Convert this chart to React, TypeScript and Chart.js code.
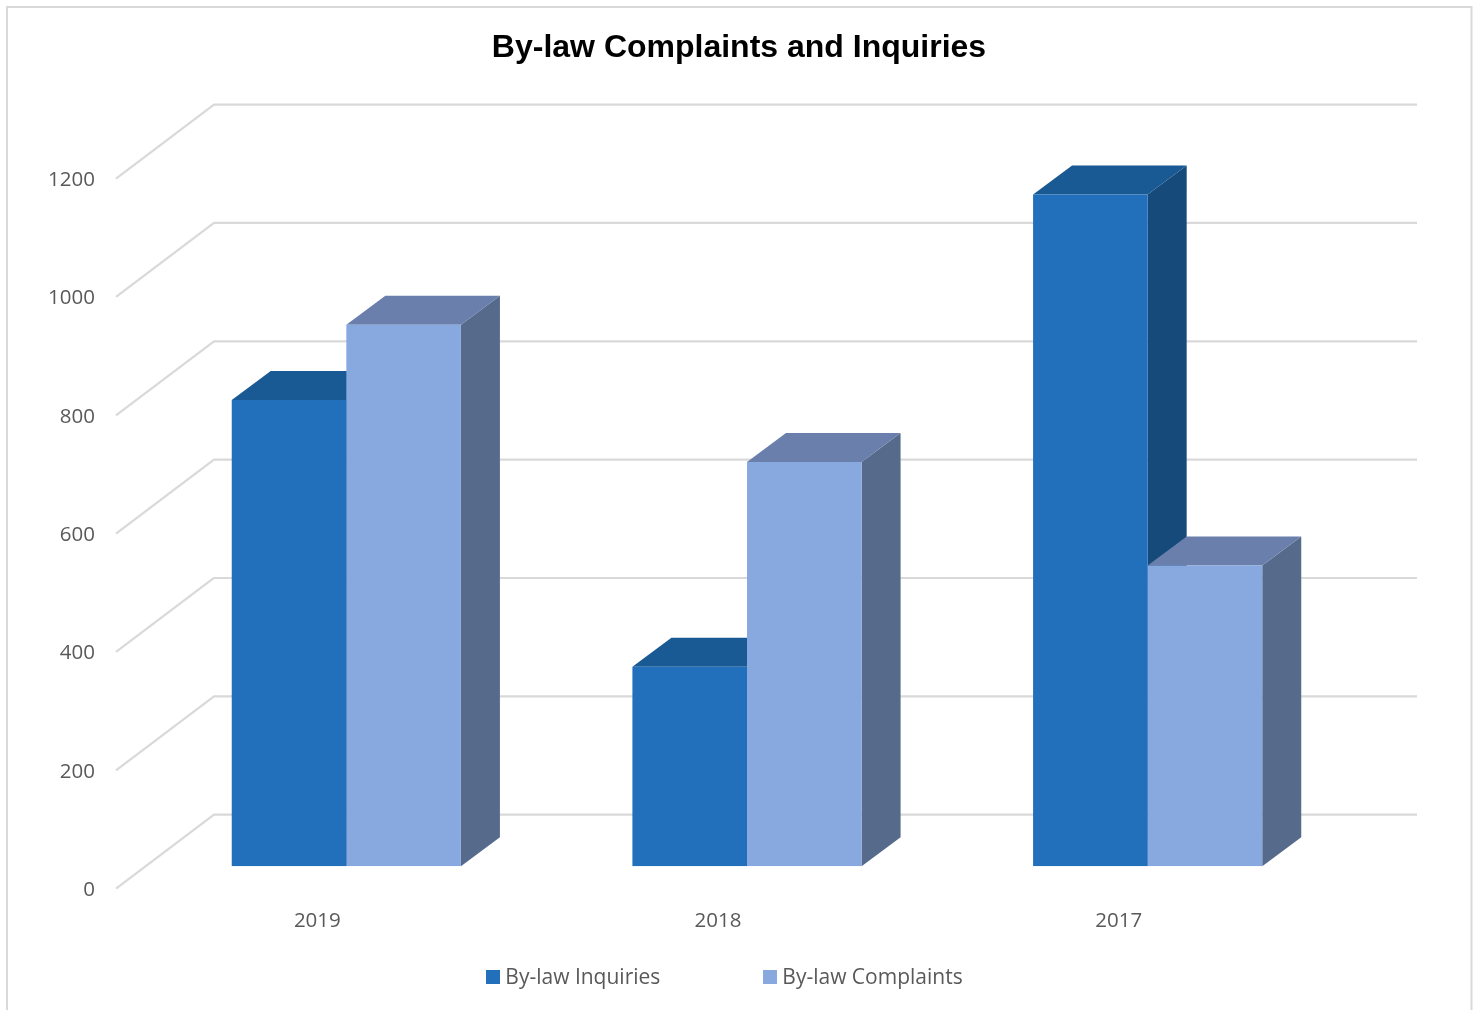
import React, { useEffect, useRef } from "react";
import { Chart, registerables } from "chart.js";

Chart.register(...registerables);

const categories = ["2019", "2018", "2017"];
const inquiries = [788, 337, 1135];
const complaints = [915, 683, 508];
const gridValues = [0, 200, 400, 600, 800, 1000, 1200];

const FONT = '"Open Sans", sans-serif';
const TEXT = "#595959";
const GRID = "#d9d9d9";
const frontColors = ["#226fbc", "#87a9e0"];
const faceColors = [
  { top: "#1a5a94", side: "#164a7b" },
  { top: "#6a7fab", side: "#566b8c" },
];
const DEPTH_X = 39;
const DEPTH_Y = 29;
const LEGEND_GAP = 108.5;

function swatch(color: string) {
  const c = document.createElement("canvas");
  c.width = 14;
  c.height = 17;
  const g = c.getContext("2d") as CanvasRenderingContext2D;
  g.fillStyle = color;
  g.fillRect(0, 0, 14, 14);
  return c;
}

const scene3d = {
  id: "scene3d",
  afterLayout(chart: any) {
    // The legend's wide item gap also inflates its box, so place it explicitly.
    const legend = chart.legend;
    legend.top = 968 - LEGEND_GAP;
    legend.left -= 13.25;
    legend.right -= 13.25;
    chart.titleBlock.left -= 1.5;
    chart.titleBlock.right -= 1.5;
  },
  beforeDraw(chart: any) {
    const { ctx, width, height } = chart;
    ctx.save();
    ctx.fillStyle = "#ffffff";
    ctx.fillRect(0, 0, width, height);
    ctx.strokeStyle = GRID;
    ctx.lineWidth = 2;
    ctx.strokeRect(7, 7, 1464.5, height + 20);
    ctx.restore();
  },
  beforeDatasetsDraw(chart: any) {
    const { ctx, chartArea, scales } = chart;
    ctx.save();
    ctx.strokeStyle = GRID;
    ctx.lineWidth = 2.2;
    ctx.lineJoin = "round";
    gridValues.forEach((v) => {
      const p = scales.y.getPixelForValue(v);
      ctx.beginPath();
      ctx.moveTo(chartArea.left - 30, p + 22.5);
      ctx.lineTo(chartArea.left + 68, p - 51.5);
      ctx.lineTo(chartArea.right + 69, p - 51.5);
      ctx.stroke();
    });
    chart.data.datasets.forEach((_: any, di: number) => {
      chart.getDatasetMeta(di).data.forEach((bar: any) => {
        const { x, y, base, width } = bar.getProps(["x", "y", "base", "width"], true);
        const l = x - width / 2;
        const r = x + width / 2;
        ctx.fillStyle = faceColors[di].side;
        ctx.beginPath();
        ctx.moveTo(r, y);
        ctx.lineTo(r + DEPTH_X, y - DEPTH_Y);
        ctx.lineTo(r + DEPTH_X, base - DEPTH_Y);
        ctx.lineTo(r, base);
        ctx.closePath();
        ctx.fill();
        ctx.fillStyle = faceColors[di].top;
        ctx.beginPath();
        ctx.moveTo(l, y);
        ctx.lineTo(l + DEPTH_X, y - DEPTH_Y);
        ctx.lineTo(r + DEPTH_X, y - DEPTH_Y);
        ctx.lineTo(r, y);
        ctx.closePath();
        ctx.fill();
      });
    });
    ctx.restore();
  },
};

export default function App() {
  const ref = useRef<HTMLCanvasElement | null>(null);
  useEffect(() => {
    document.body.style.margin = "0";
    document.body.style.overflow = "hidden";
    const baseLabels = Chart.defaults.plugins.legend.labels.generateLabels;
    const chart = new Chart(ref.current as HTMLCanvasElement, {
      type: "bar",
      data: {
        labels: categories,
        datasets: [
          { label: "By-law Inquiries", data: inquiries, backgroundColor: frontColors[0], borderWidth: 0 },
          { label: "By-law Complaints", data: complaints, backgroundColor: frontColors[1], borderWidth: 0 },
        ],
      },
      options: {
        responsive: false,
        animation: false,
        layout: { padding: { left: 0, right: 0, top: 0, bottom: -65.7 } },
        datasets: { bar: { categoryPercentage: 0.572, barPercentage: 1 } },
        plugins: {
          tooltip: { enabled: false },
          title: {
            display: true,
            text: "By-law Complaints and Inquiries",
            color: "#000000",
            font: { family: '"Liberation Sans", Arial, sans-serif', size: 32, weight: "bold" },
            padding: { top: 29, bottom: 36.6 },
          },
          legend: {
            position: "bottom",
            labels: {
              color: TEXT,
              font: { family: FONT, size: 21 },
              boxWidth: 14,
              boxHeight: 14,
              usePointStyle: true,
              pointStyleWidth: 3,
              padding: LEGEND_GAP,
              generateLabels: (c: any) =>
                baseLabels(c).map((item: any, i: number) => ({
                  ...item,
                  pointStyle: swatch(frontColors[i]),
                })),
            },
          },
        },
        scales: {
          x: {
            grid: { display: false, drawTicks: false },
            border: { display: false },
            afterFit: (s: any) => { s.height = 70; },
            ticks: {
              color: TEXT,
              font: { family: FONT, size: 20.5 },
              padding: 43,
              labelOffset: -29,
              maxRotation: 0,
              autoSkip: false,
            },
          },
          y: {
            min: 0,
            max: 1288,
            grid: { display: false, drawTicks: false },
            border: { display: false },
            afterFit: (s: any) => { s.width = 146; },
            ticks: {
              color: TEXT,
              font: { family: FONT, size: 20.5 },
              stepSize: 200,
              includeBounds: false,
              padding: 51,
              labelOffset: 24,
              callback: (v: any) => String(v),
            },
          },
          spacer: {
            position: "right",
            grid: { display: false, drawTicks: false },
            border: { display: false },
            ticks: { display: false },
            afterFit: (s: any) => { s.width = 133; },
          },
        },
      },
      plugins: [scene3d],
    } as any);
    return () => chart.destroy();
  }, []);
  return (
    <canvas
      ref={ref}
      width={1481}
      height={1010}
      style={{ display: "block", position: "absolute", left: 0, top: 0 }}
    />
  );
}
